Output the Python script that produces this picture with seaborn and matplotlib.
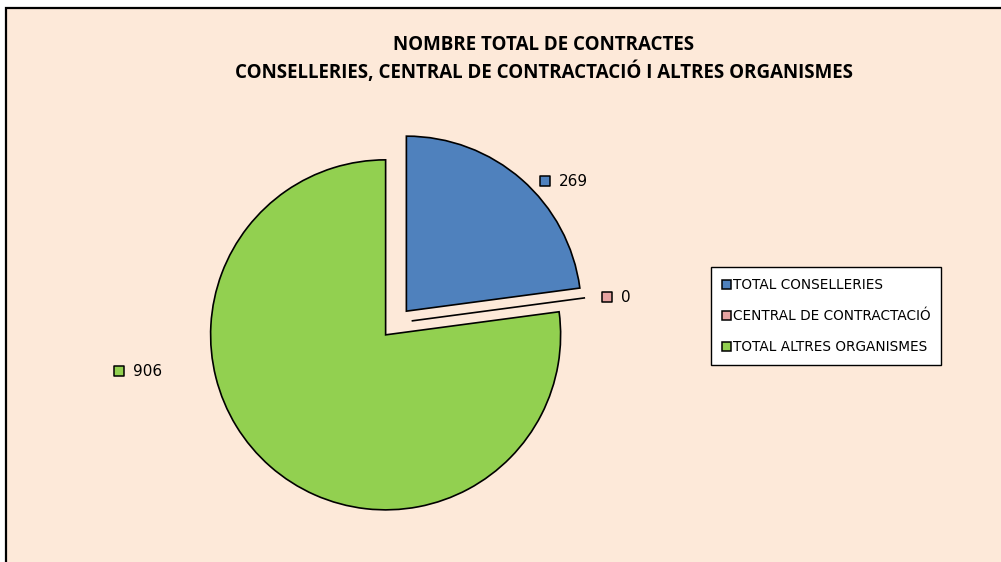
import numpy as np
import matplotlib
matplotlib.use("Agg")
import matplotlib.pyplot as plt
from matplotlib.patches import Rectangle, Patch
import seaborn as sns

# data
categories = ["TOTAL CONSELLERIES", "CENTRAL DE CONTRACTACIÓ", "TOTAL ALTRES ORGANISMES"]
values = [269, 0, 906]
colors = ["#4F81BD", "#E6A3A1", "#92D050"]
title_lines = ["NOMBRE TOTAL DE CONTRACTES",
               "CONSELLERIES, CENTRAL DE CONTRACTACIÓ I ALTRES ORGANISMES"]

sns.set_style("white")
plt.rcParams["font.family"] = ["DejaVu Sans"]
plt.rcParams["text.color"] = "black"

W, H = 1001, 562
bg = "#FDE9D9"
fig = plt.figure(figsize=(W / 100, H / 100), dpi=100)
fig.patch.set_facecolor("white")
ax = fig.add_axes([0, 0, 1, 1])
ax.set_facecolor("none")

# chart area frame (cropped at right and bottom)
ax.add_patch(Rectangle((6, -10), W + 20, H - 8 + 10, facecolor=bg,
                       edgecolor="black", lw=1.6, zorder=0))

cx, cy, r = 396, H - 323, 175
wedges, _ = ax.pie(values, colors=colors, startangle=90, counterclock=False,
                   radius=r, center=(cx, cy), explode=[0.09 * r] * 3,
                   wedgeprops=dict(edgecolor="black", linewidth=1.2))
for w in wedges:
    w.set_zorder(2)

ax.set_xlim(0, W)
ax.set_ylim(0, H)
ax.set_aspect("auto")
ax.axis("off")

# data labels (pixel offsets from pie centre where the chart put them)
label_offsets = [(149, 142), (211, 26), (-277, -48)]
for val, col, (dx, dy) in zip(values, colors, label_offsets):
    ax.scatter([cx + dx], [cy + dy], marker="s", s=50, facecolor=col,
               edgecolor="black", linewidth=1.1, zorder=3)
    ax.text(cx + dx + 14, cy + dy, str(val), fontsize=11, va="center",
            ha="left", color="black", zorder=3)

# title
for line, ypx in zip(title_lines, [45, 72]):
    fig.text(0.543, 1 - ypx / H, line, ha="center", va="center",
             fontsize=13.5, fontweight="bold", color="black",
             family=["Open Sans", "DejaVu Sans"])

handles = [Patch(facecolor=c, edgecolor="black", linewidth=1.1) for c in colors]
leg = ax.legend(handles, categories, loc="upper left",
                bbox_to_anchor=(711 / W, 1 - 267 / H), bbox_transform=fig.transFigure,
                fontsize=9.8, frameon=True, fancybox=False, edgecolor="black",
                facecolor="white", framealpha=1, handlelength=0.65,
                handleheight=0.65, handletextpad=0.15, labelspacing=1.25,
                borderpad=0.8, borderaxespad=0)
leg.get_frame().set_linewidth(1.0)

fig.savefig("out.png", dpi=100, facecolor="white")
